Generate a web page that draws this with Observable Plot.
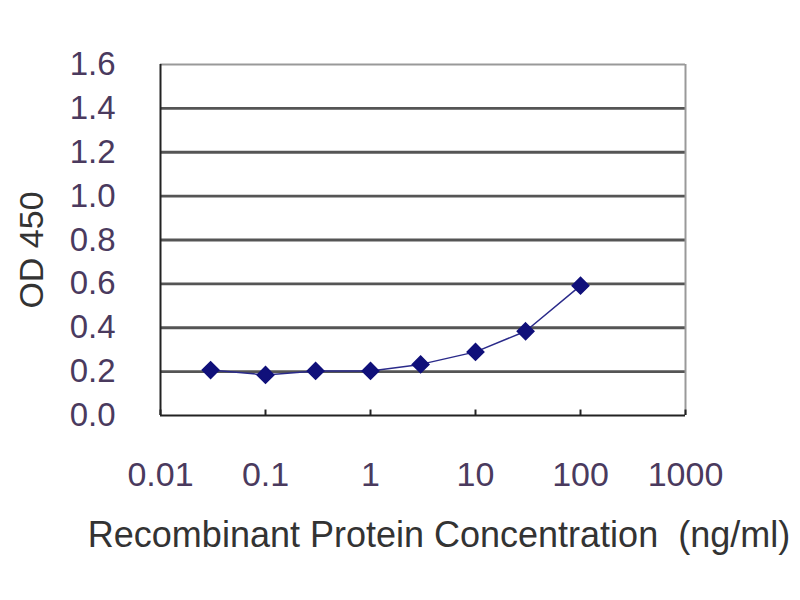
<!DOCTYPE html>
<html>
<head>
<meta charset="utf-8">
<script src="https://cdn.jsdelivr.net/npm/d3@7"></script>
<script src="https://cdn.jsdelivr.net/npm/@observablehq/plot@0.6"></script>
<style>
  body { margin: 0; background: #fff; }
  #chart svg { display: block; }
</style>
</head>
<body>
<div id="chart"></div>
<script>
// concentration (ng/ml) and OD 450
const conc = [0.03, 0.1, 0.3, 1, 3, 10, 30, 100];
const od = [0.207, 0.185, 0.203, 0.203, 0.233, 0.29, 0.384, 0.592];
const xTicks = [0.01, 0.1, 1, 10, 100, 1000];
const yTicks = [0, 0.2, 0.4, 0.6, 0.8, 1.0, 1.2, 1.4, 1.6];

const data = conc.map((c, i) => ({conc: c, od: od[i]}));
const labelColor = "#4a3a5e";

let chart = Plot.plot({
  width: 800,
  height: 600,
  marginLeft: 160,
  marginRight: 115,
  marginTop: 64,
  marginBottom: 185,
  style: {
    "font-family": "'Liberation Sans', Arial, sans-serif",
    "background-color": "white"
  },
  x: { type: "log", domain: [0.01, 1000] },
  y: { domain: [0, 1.6] },
  marks: [
    // horizontal grid
    Plot.ruleY(yTicks.filter((d) => d > 0 && d < 1.6), { stroke: "#555", strokeWidth: 2.8 }),
    Plot.ruleY([1.6], { stroke: "#999", strokeWidth: 2 }),
    Plot.ruleX([1000], { stroke: "#999", strokeWidth: 2 }),
    // frame axes
    Plot.ruleY([0], { stroke: "#222", strokeWidth: 2 }),
    Plot.ruleX([0.01], { stroke: "#222", strokeWidth: 2 }),
    // inward x ticks
    Plot.ruleX(xTicks, { y1: 0, y2: 0.025, stroke: "#222", strokeWidth: 2 }),
    Plot.axisX(xTicks, {
      tickSize: 0,
      tickPadding: 46,
      tickFormat: (d) => String(d),
      fontSize: 34,
      fill: labelColor,
      label: null
    }),
    Plot.axisY(yTicks, {
      tickSize: 0,
      tickPadding: 45,
      tickFormat: d3.format(".1f"),
      fontSize: 33,
      fill: labelColor,
      label: null
    }),
    // series
    Plot.line(data, { x: "conc", y: "od", stroke: "#2a2a8a", strokeWidth: 1.5 }),
    Plot.dot(data, { x: "conc", y: "od", symbol: "diamond2", r: 7.5, fill: "#10107a", stroke: "#10107a" })
  ]
});

// axis titles
const svg = d3.select(chart);
svg.append("text")
  .attr("x", 439)
  .attr("y", 547)
  .attr("text-anchor", "middle")
  .attr("font-size", 36)
  .attr("fill", "#333")
  .text("Recombinant Protein Concentration  (ng/ml)");
svg.append("text")
  .attr("transform", "translate(43,250) rotate(-90)")
  .attr("text-anchor", "middle")
  .attr("font-size", 34)
  .attr("fill", "#333")
  .text("OD 450");

d3.select("#chart").append(() => chart);
</script>
</body>
</html>
